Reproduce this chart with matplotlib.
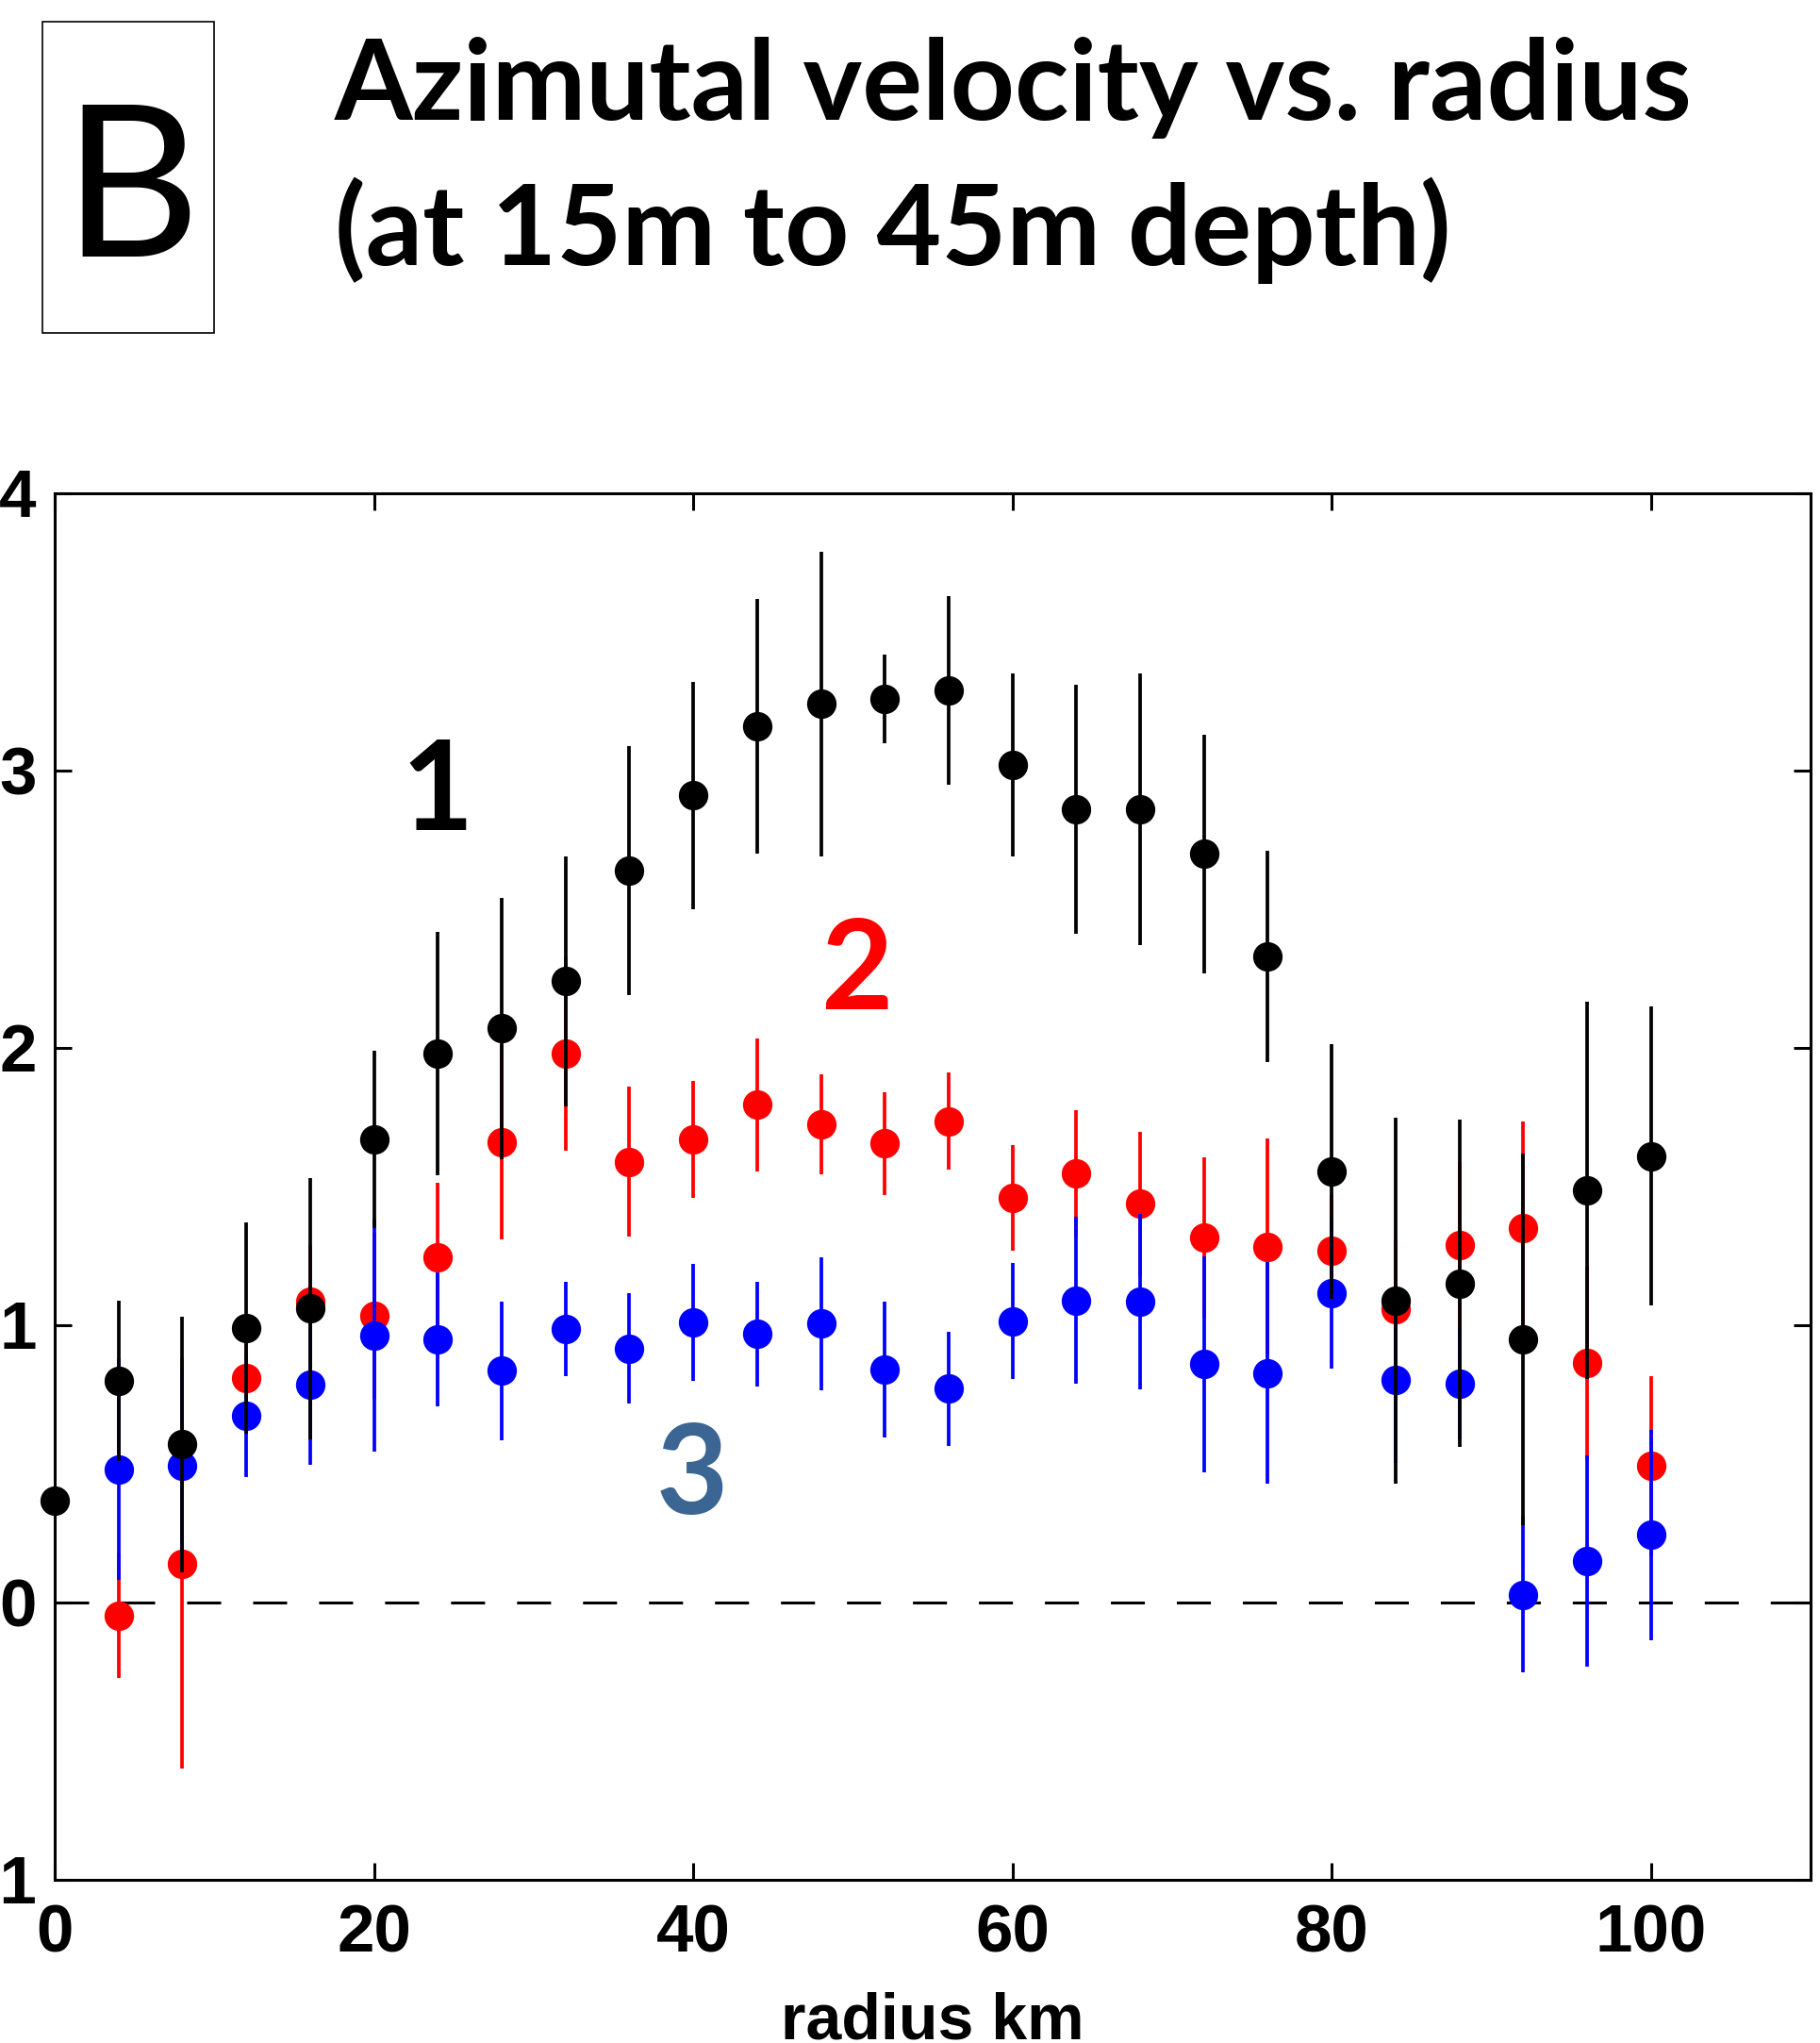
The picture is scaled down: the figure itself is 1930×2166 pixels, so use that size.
import matplotlib
matplotlib.use("Agg")
import matplotlib.pyplot as plt
from matplotlib.patches import Rectangle

W, H, DPI = 1930, 2166, 100

# radius (km) of each bin
radius = [0, 4, 8, 12, 16, 20, 24, 28, 32, 36, 40, 44, 48, 52,
          56, 60, 64, 68, 72, 76, 80, 84, 88, 92, 96, 100]

# group 1 (black)
v1 = [0.366, 0.80, 0.57, 0.99, 1.06, 1.67, 1.98, 2.07, 2.24, 2.64, 2.91, 3.16, 3.24,
      3.26, 3.29, 3.02, 2.86, 2.86, 2.70, 2.33, 1.555, 1.09, 1.15, 0.95, 1.485, 1.61]
e1 = [0.0, 0.29, 0.46, 0.38, 0.47, 0.32, 0.44, 0.47, 0.45, 0.45, 0.41, 0.46, 0.55,
      0.16, 0.34, 0.33, 0.45, 0.49, 0.43, 0.38, 0.46, 0.66, 0.59, 0.67, 0.68, 0.54]

# groups 2 and 3 start at 4 km
radius23 = radius[1:]
v2 = [-0.047, 0.14, 0.81, 1.085, 1.034, 1.245, 1.66, 1.98, 1.59, 1.67, 1.795, 1.725,
      1.655, 1.735, 1.46, 1.546, 1.438, 1.316, 1.283, 1.27, 1.057, 1.29, 1.35, 0.865, 0.493]
e2 = [0.225, 0.74, 0.15, 0.20, 0.30, 0.27, 0.35, 0.35, 0.27, 0.21, 0.24, 0.18,
      0.185, 0.175, 0.19, 0.23, 0.26, 0.29, 0.39, 0.20, 0.25, 0.30, 0.385, 0.35, 0.325]
v3 = [0.48, 0.493, 0.672, 0.785, 0.963, 0.949, 0.836, 0.987, 0.916, 1.01, 0.968, 1.006,
      0.841, 0.771, 1.015, 1.09, 1.085, 0.86, 0.827, 1.114, 0.804, 0.79, 0.028, 0.15, 0.244]
e3 = [0.40, 0.35, 0.22, 0.29, 0.42, 0.24, 0.25, 0.17, 0.20, 0.21, 0.19, 0.24,
      0.245, 0.205, 0.21, 0.30, 0.315, 0.39, 0.40, 0.27, 0.30, 0.20, 0.28, 0.38, 0.38]

xticks = [0, 20, 40, 60, 80, 100]
yticks = [-1, 0, 1, 2, 3, 4]
ytick_labels = ["\u22121", "0", "1", "2", "3", "4"]

TICKFONT = "Liberation Sans"


def fx(px):
    return px / W


def fy(py):
    return 1 - py / H


fig = plt.figure(figsize=(W / DPI, H / DPI), dpi=DPI)
ax = fig.add_axes([fx(58), fy(1993), fx(1920) - fx(58), fy(523) - fy(1993)])

ax.axhline(0, color="black", lw=2.2, dashes=(11.8, 11.1), zorder=1)

series = [
    (radius23, v2, e2, "#ff0000", 2),
    (radius23, v3, e3, "#0000ff", 3),
    (radius, v1, e1, "#000000", 4),
]
for xs, ys, es, col, z in series:
    ax.errorbar(xs, ys, yerr=es, fmt="o", color=col, ms=21.5, mec=col,
                elinewidth=2.7, capsize=0, zorder=z, clip_on=False)

ax.set_xlim(0, 110)
ax.set_ylim(-1, 4)
ax.set_xticks(xticks)
ax.set_yticks(yticks)
ax.set_yticklabels(ytick_labels)
ax.tick_params(direction="in", length=13, width=2.2, top=True, right=True,
               labelsize=51)
ax.tick_params(axis="x", pad=18.5)
ax.tick_params(axis="y", pad=14)
for lab in ax.get_xticklabels() + ax.get_yticklabels():
    lab.set_family(TICKFONT)
    lab.set_weight("bold")
for sp in ax.spines.values():
    sp.set_linewidth(2.2)
ax.set_xlabel("radius km", family=TICKFONT, weight="bold", fontsize=49, labelpad=19)

# group numbers
ax.text(23.95, 2.786, "1", family="Lato", weight="bold", fontsize=95,
        color="black", ha="center", va="baseline")
ax.text(50.3, 2.139, "2", family="Lato", weight="bold", fontsize=95,
        color="#ff0000", ha="center", va="baseline")
ax.text(39.93, 0.32, "3", family="Lato", weight="bold", fontsize=95,
        color="#3b6593", ha="center", va="baseline")

# panel letter and heading
fig.patches.append(Rectangle((fx(44.5), fy(353)), fx(227) - fx(44.5), fy(23) - fy(353),
                             transform=fig.transFigure, fill=False, lw=1.2,
                             edgecolor="black"))
fig.text(fx(139.5), fy(272), "B", family="Lato", fontsize=162, ha="center",
         va="baseline")
fig.text(fx(355), fy(127), "Azimutal velocity vs. radius", family="Lato",
         weight="bold", fontsize=85.7, ha="left", va="baseline")
fig.text(fx(355), fy(281), "(at 15m to 45m depth)", family="Lato",
         weight="bold", fontsize=85.7, ha="left", va="baseline")

fig.savefig("out.png", dpi=DPI)
